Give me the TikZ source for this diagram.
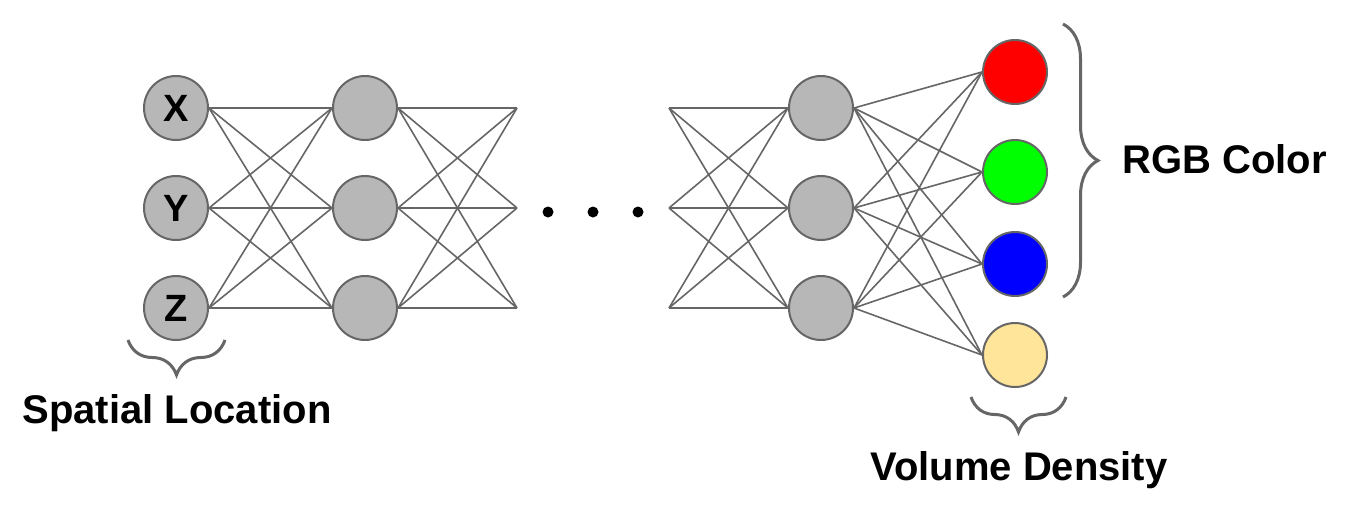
\documentclass[tikz,border=0pt]{standalone}
\usepackage{fontspec}
\setmainfont{Liberation Sans}
\usetikzlibrary{decorations.pathreplacing}
\definecolor{nodegray}{HTML}{B7B7B7}
\definecolor{edgegray}{HTML}{666666}
\definecolor{densyellow}{HTML}{FFE599}
\tikzset{
  neuron/.style={circle, draw=edgegray, line width=2pt, fill=nodegray, minimum size=64pt, inner sep=0pt, font=\fontsize{38}{40}\selectfont\bfseries},
  wire/.style={edgegray, line width=1.6pt},
  bracket/.style={edgegray, line width=3pt, decorate, decoration={brace, amplitude=35pt}},
  caption/.style={font=\fontsize{40}{48}\selectfont\bfseries, inner sep=0pt}
}

\begin{document}
\begin{tikzpicture}[x=1pt,y=-1pt]
\useasboundingbox (0,0) rectangle (1362,504);
% input layer
\node[neuron] (x) at (176,108) {X};
\node[neuron] (y) at (176,208) {Y};
\node[neuron] (z) at (176,308) {Z};
% hidden layers and loose ends
\foreach \i/\yy in {1/108,2/208,3/308} {
  \node[neuron] (a\i) at (365,\yy) {};
  \coordinate (fa\i) at (517,\yy);
  \coordinate (fb\i) at (669,\yy);
  \node[neuron] (b\i) at (821,\yy) {};
}
% output layer
\node[neuron, fill=red] (r) at (1015,72) {};
\node[neuron, fill=green] (g) at (1015,172) {};
\node[neuron, fill=blue] (bl) at (1015,264) {};
\node[neuron, fill=densyellow] (d) at (1015,355) {};

\foreach \s in {x,y,z} {
  \foreach \t in {1,2,3}
    \draw[wire] (\s.east) -- (a\t.west);
}
\foreach \s in {1,2,3} {
  \foreach \t in {1,2,3} {
    \draw[wire] (a\s.east) -- (fa\t);
    \draw[wire] (fb\s) -- (b\t.west);
  }
}
\foreach \s in {1,2,3} {
  \foreach \t in {r,g,bl,d}
    \draw[wire] (b\s.east) -- (\t.west);
}
% dots
\foreach \x in {548,593,638}
  \fill (\x,212) circle (5.5pt);

% braces and labels
\draw[bracket] (225,340) -- (128,340);
\draw[bracket] (1066,397) -- (971,397);
\draw[bracket] (1063,24) -- (1063,297);
\node[caption, anchor=base] (loc) at (177,423) {Spatial Location};
\node[caption, anchor=base] (dens) at (1019,480) {Volume Density};
\node[caption, anchor=base west] (rgb) at (1122,173) {RGB Color};
\end{tikzpicture}
\end{document}
